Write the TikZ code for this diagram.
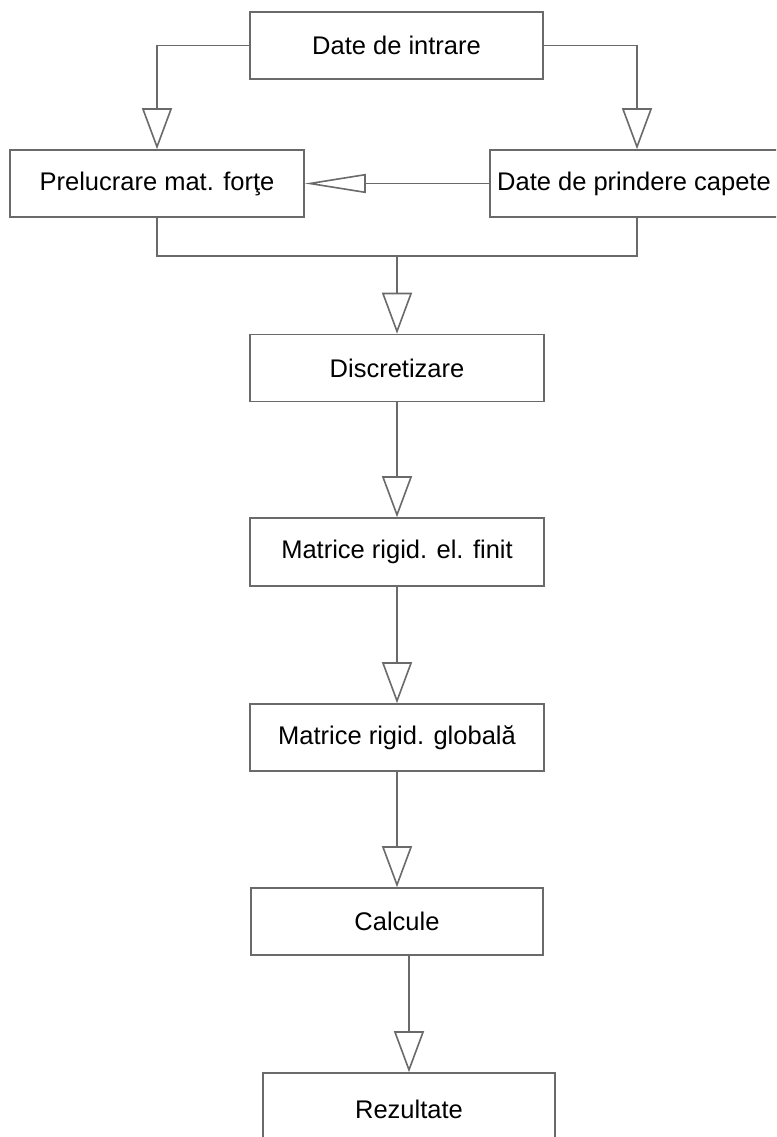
\documentclass[tikz,border=0pt]{standalone}
\usepackage{fontspec}
\setmainfont{Liberation Sans}
\usetikzlibrary{arrows.meta}
\definecolor{linegray}{HTML}{6A6A6A}
\tikzset{
  stepbox/.style={draw=linegray, line width=1.6pt, fill=white, inner sep=0pt,
    minimum height=67pt, font=\fontsize{25.5}{30}\selectfont, text=black},
  flow/.style={draw=linegray, line width=1.6pt,
    -{Triangle[open, length=41pt, width=30pt, line width=1.6pt]}},
  sideflow/.style={draw=linegray, line width=1.6pt,
    -{Triangle[open, length=61pt, width=19pt, line width=1.6pt]}},
  joinline/.style={draw=linegray, line width=1.6pt}
}
\begin{document}
\begin{tikzpicture}[x=1pt, y=-1pt]
  \useasboundingbox (0,0) rectangle (776,1137);
  \fill[white] (0,0) rectangle (776,1137);
  \clip (0,0) rectangle (776,1137);

  % process boxes
  \node[stepbox, minimum width=293pt] (intrare) at (396.5,45.5) {Date de intrare};
  \node[stepbox, minimum width=294pt] (prel) at (157,183.5) {Prelucrare mat. forţe};
  \node[stepbox, minimum width=288pt] (prind) at (634,183.5) {Date de prindere capete};
  \node[stepbox, minimum width=294pt] (disc) at (397,368) {Discretizare};
  \node[stepbox, minimum width=294pt, minimum height=68pt] (finit) at (397,552) {Matrice rigid. el. finit};
  \node[stepbox, minimum width=294pt] (glob) at (397,737.5) {Matrice rigid. globală};
  \node[stepbox, minimum width=292pt] (calc) at (397,921.5) {Calcule};
  \node[stepbox, minimum width=292pt, minimum height=72pt] (rez) at (409,1109) {Rezultate};

  % merge point of the two preparation branches
  \coordinate (merge) at (397,256);
  \coordinate (prindtop) at ([xshift=3pt]prind.north);
  \coordinate (prindbot) at ([xshift=3pt]prind.south);

  % input data split to both branches
  \draw[flow] (intrare.west) -| (prel.north);
  \draw[flow] (intrare.east) -| (prindtop);
  \draw[sideflow] (prind.west) -- (prel.east);

  % both branches join and continue down
  \draw[joinline] (prel.south) |- (merge) -| (prindbot);
  \draw[flow] (merge) -- (disc.north);
  \draw[flow] (disc.south) -- (finit.north);
  \draw[flow] (finit.south) -- (glob.north);
  \draw[flow] (glob.south) -- (calc.north);
  \draw[flow] (rez.north |- calc.south) -- (rez.north);
\end{tikzpicture}
\end{document}
